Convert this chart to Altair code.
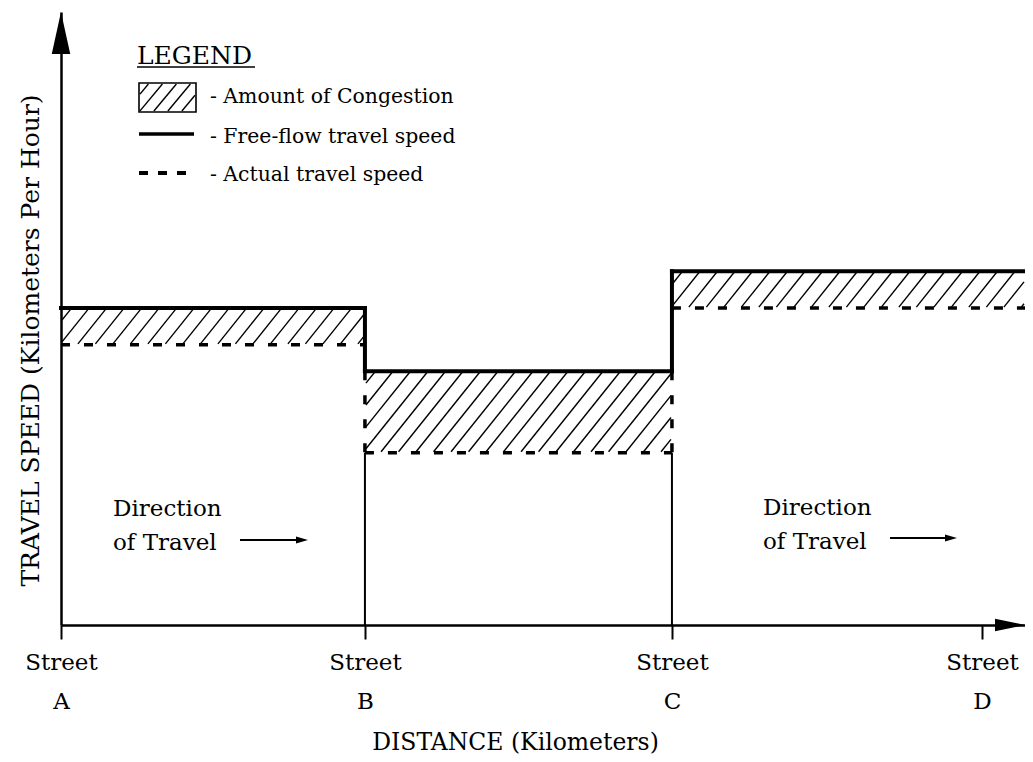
import altair as alt
import pandas as pd

# ---------------- data ----------------
STREETS = ["A", "B", "C", "D"]
STREET_POS = [0.0, 0.99, 1.99, 3.0]          # distance position of each street
SEG_START = [0.0, 0.99, 1.99]                 # road segments A-B, B-C, C-beyond
SEG_END = [0.99, 1.99, 3.14]
FREE_FLOW = [51.7, 41.4, 57.7]                # free-flow travel speed
ACTUAL = [45.7, 28.1, 51.7]                   # actual travel speed
LEGEND_TITLE = "LEGEND"
LEGEND_ITEMS = ["- Amount of Congestion", "- Free-flow travel speed", "- Actual travel speed"]
ANNOTATION = ["Direction", "of Travel"]
Y_TITLE = "TRAVEL SPEED (Kilometers Per Hour)"
X_TITLE = "DISTANCE (Kilometers)"

X_MAX = 3.14
Y_MAX = 100.0
W, H = 964, 613
KX = W / X_MAX
KY = H / Y_MAX
FONT = "DejaVu Serif"


def hatch_px(L, R, B, T, spacing, slope, phase=0.5):
    """'/' hatch lines in pixel space (y measured upward)."""
    h = T - B
    run = h / slope
    rows = []
    c = L - run + spacing * phase
    while c < R:
        xs, ys = c, B
        xe, ye = c + run, T
        if xs < L:
            ys = B + slope * (L - c)
            xs = L
        if xe > R:
            ye = B + slope * (R - c)
            xe = R
        if xe > xs + 0.5:
            rows.append((xs, ys, xe, ye))
        c += spacing
    return rows


hatch_rows = []
for x0, x1, lo, hi in zip(SEG_START, SEG_END, ACTUAL, FREE_FLOW):
    for xs, ys, xe, ye in hatch_px(x0 * KX + 1, x1 * KX - 1, lo * KY + 1, hi * KY - 1, 17.5, 1.25):
        hatch_rows.append(dict(hx=xs / KX, hy=ys / KY, hx2=xe / KX, hy2=ye / KY))
# legend swatch hatching (swatch box in plot pixels: x 78..135, y 71..100 from top)
for xs, ys, xe, ye in hatch_px(79, 134, H - 99, H - 72, 14, 1.2, 0.6):
    hatch_rows.append(dict(hx=xs / KX, hy=ys / KY, hx2=xe / KX, hy2=ye / KY))
hatch_df = pd.DataFrame(hatch_rows)

seg_df = pd.DataFrame({"x0": SEG_START, "x1": SEG_END, "free": FREE_FLOW, "actual": ACTUAL})

bnd = []
for i in range(len(SEG_START) - 1):
    bnd.append(dict(
        bx=SEG_END[i],
        fa=FREE_FLOW[i], fb=FREE_FLOW[i + 1],
        dtop=min(FREE_FLOW[i], FREE_FLOW[i + 1]),
        dbot=min(ACTUAL[i], ACTUAL[i + 1]),
    ))
bnd_df = pd.DataFrame(bnd)
one = pd.DataFrame({"k": [0]})

xs_ = alt.Scale(domain=[0, X_MAX], nice=False, zero=False)
ys_ = alt.Scale(domain=[0, Y_MAX], nice=False, zero=False)

pos_list = "[" + ",".join(repr(p) for p in STREET_POS) + "]"
name_list = "[" + ",".join("'" + s + "'" for s in STREETS) + "]"
label_expr = "['Street', " + name_list + "[indexof(" + pos_list + ", datum.value)]]"

x_axis = alt.Axis(
    values=STREET_POS, labelExpr=label_expr, grid=False,
    domainColor="black", domainWidth=2.5, tickColor="black", tickWidth=2, tickSize=14,
    labelFont=FONT, labelFontSize=23, labelColor="black", labelBaseline="top",
    labelPadding=12, labelLineHeight=39, labelAlign="center", labelFlush=False,
    labelOverlap=False, labelBound=False,
    title=X_TITLE, titleFont=FONT, titleFontSize=23.5, titleFontWeight="normal", titleColor="black",
    titleX=454, titleY=117, titleAlign="center", titleBaseline="middle",
)
y_axis = alt.Axis(
    grid=False, ticks=False, labels=False, domainColor="black", domainWidth=2.5,
    title=Y_TITLE, titleFont=FONT, titleFontSize=25, titleFontWeight="normal", titleColor="black",
    titleX=-31, titleY=328, titleAngle=270, titleAlign="center", titleBaseline="middle",
)


def X(field):
    return alt.X(field, type="quantitative", scale=xs_, axis=x_axis)


def Y(field):
    return alt.Y(field, type="quantitative", scale=ys_, axis=y_axis)


swatch = alt.Chart(one).mark_rect(fill="white", stroke="black", strokeWidth=1.6).encode(
    x=alt.value(78), x2=alt.value(135), y=alt.value(71), y2=alt.value(100))
free_line = alt.Chart(seg_df).mark_rule(strokeWidth=4, color="black", strokeCap="square").encode(
    x=X("x0"), x2="x1", y=Y("free"),
)
hatch = alt.Chart(hatch_df).mark_rule(strokeWidth=1.4, color="black").encode(
    x=X("hx"), x2="hx2", y=Y("hy"), y2="hy2",
)
actual_line = alt.Chart(seg_df).mark_rule(strokeWidth=3.5, color="black", strokeDash=[9, 14]).encode(
    x=X("x0"), x2="x1", y=Y("actual"),
)
connectors = alt.Chart(bnd_df).mark_rule(strokeWidth=4, color="black", strokeCap="square").encode(
    x=X("bx"), y=Y("fa"), y2="fb",
)
dashed_v = alt.Chart(bnd_df).mark_rule(strokeWidth=3.5, color="black", strokeDash=[9, 15]).encode(
    x=X("bx"), y=Y("dtop"), y2="dbot",
)
thin_v = alt.Chart(bnd_df).mark_rule(strokeWidth=2, color="black").encode(
    x=X("bx"), y=Y("dbot"), y2=alt.datum(0),
)

# axis arrowheads
y_arrow = alt.Chart(one).mark_point(shape="M0,-1L0.44,1L-0.44,1Z", filled=True, size=1764,
                                    color="black", opacity=1).encode(x=alt.value(0), y=alt.value(21))
x_arrow = alt.Chart(one).mark_point(shape="M1,0L-1,-0.42L-1,0.42Z", filled=True, size=900,
                                    color="black", opacity=1).encode(x=alt.value(W - 15), y=alt.value(H))

# legend
legend_title = alt.Chart(one).mark_text(text=LEGEND_TITLE, font=FONT, fontSize=25, color="black",
                                        align="left", baseline="alphabetic").encode(
    x=alt.value(76), y=alt.value(52))
legend_ul = alt.Chart(one).mark_rule(strokeWidth=1.5, color="black").encode(
    x=alt.value(76), x2=alt.value(194), y=alt.value(55))
leg_solid = alt.Chart(one).mark_rule(strokeWidth=3.5, color="black").encode(
    x=alt.value(78), x2=alt.value(133), y=alt.value(122))
leg_dash = alt.Chart(one).mark_rule(strokeWidth=4, color="black", strokeDash=[9, 10]).encode(
    x=alt.value(78), x2=alt.value(126), y=alt.value(161))
leg_texts = [
    alt.Chart(one).mark_text(text=t, font=FONT, fontSize=20.4, color="black", align="left",
                             baseline="middle").encode(x=alt.value(149), y=alt.value(yy))
    for t, yy in zip(LEGEND_ITEMS, [85, 125, 163])
]

# direction of travel annotations
annots = []
for tx, ax0, ax1, ay, ty in [(52, 179, 247, 528, 497), (702, 829, 896, 526, 496)]:
    annots.append(alt.Chart(one).mark_text(text=ANNOTATION, font=FONT, fontSize=23, color="black",
                                           align="left", baseline="middle", lineHeight=34).encode(
        x=alt.value(tx), y=alt.value(ty)))
    annots.append(alt.Chart(one).mark_rule(strokeWidth=2, color="black").encode(
        x=alt.value(ax0), x2=alt.value(ax1 - 8), y=alt.value(ay)))
    annots.append(alt.Chart(one).mark_point(shape="M1,0L-1,-0.6L-1,0.6Z", filled=True, size=144,
                                            color="black", opacity=1).encode(
        x=alt.value(ax1 - 6), y=alt.value(ay)))

chart = alt.layer(
    swatch, free_line, hatch, actual_line, connectors, dashed_v, thin_v,
    y_arrow, x_arrow,
    legend_title, legend_ul, leg_solid, leg_dash, *leg_texts,
    *annots,
).properties(
    width=W, height=H,
    autosize=alt.AutoSizeParams(type="none"),
    padding={"left": 53, "top": 4, "right": 0, "bottom": 129},
    background="white",
).configure_view(strokeWidth=0)

chart.save("out.html", embed_options={"renderer": "svg", "actions": False})
